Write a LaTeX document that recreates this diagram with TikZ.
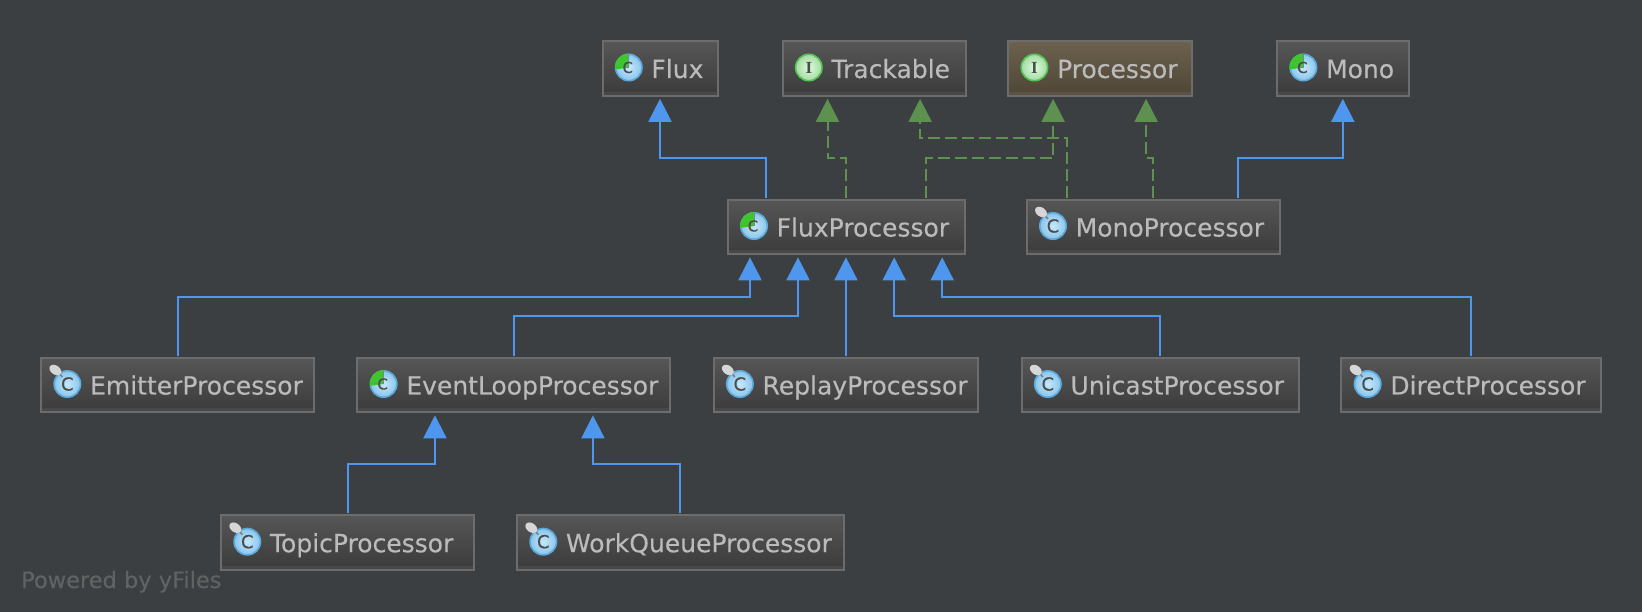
\documentclass[tikz,border=0pt]{standalone}
\usepackage{fontspec}
\setmainfont{DejaVu Sans}[FakeBold=0.25]
\newfontfamily\markfont{Liberation Serif}
\usepackage{tikz}
\usetikzlibrary{arrows.meta, positioning}

\definecolor{canvasgray}{HTML}{3C3F41}
\definecolor{framegray}{HTML}{6C6C6C}
\definecolor{labelgray}{HTML}{BBBBBB}
\definecolor{faintgray}{HTML}{5F6364}
\definecolor{extendblue}{HTML}{4F96EE}
\definecolor{implgreen}{HTML}{5E9150}
\definecolor{markblue}{HTML}{5CA9DC}
\definecolor{markpale}{HTML}{C4E8FC}
\definecolor{markgreen}{HTML}{3FC62F}
\definecolor{boxtop}{HTML}{565656}
\definecolor{boxbottom}{HTML}{3B3B3B}
\definecolor{boxband}{HTML}{484848}
\definecolor{ifacetop}{HTML}{6C614E}
\definecolor{ifacebottom}{HTML}{4E4636}
\definecolor{ifaceband}{HTML}{5B5343}

\tikzset{
  pics/pinnedmark/.style={code={
    \draw[markblue, line width=1.6pt, inner color=markpale, outer color=markblue!55!markpale] (0,0) circle (13.2pt);
    \node[text=black!70, font=\fontsize{18}{18}\selectfont] (-letter) at (0,0) {C};
    \draw[gray, line width=1.6pt] (-5,-7) -- (-11,-14);
    \fill[black!16, rotate around={-35:(-12,-14)}] (-12,-14) ellipse (6.5pt and 4.5pt);
  }},
  pics/abstractmark/.style={code={
    \draw[markblue, line width=1.6pt, inner color=markpale, outer color=markblue!55!markpale] (0,0) circle (13.2pt);
    \fill[markgreen, y=1pt] (0,0) -- (0,14) arc[start angle=90, end angle=188, radius=14] -- cycle;
    \draw[gray!80!markblue, line width=1pt] (0,-13) -- (0,0) -- (-13,0);
    \node[text=black!70, font=\fontsize{15}{15}\selectfont] (-letter) at (-1,0) {C};
  }},
  pics/interfacemark/.style={code={
    \draw[green!50!gray!90!white, line width=1.6pt, inner color=green!15!white, outer color=green!40!gray!50!white] (0,0) circle (13.2pt);
    \node[text=black!70, font=\markfont\bfseries\fontsize{17}{17}\selectfont] (-letter) at (0,0) {I};
  }},
}

\begin{document}
\begin{tikzpicture}[x=1pt, y=-1pt, font=\fontsize{25}{30}\selectfont]
 \tikzstyle{block} = [draw=framegray, line width=2pt, text=labelgray, outer sep=0pt, inner xsep=0pt, inner ysep=0pt, text width=#1, align=left, minimum height=54.7pt, text height=23pt, text depth=4pt, top color=boxtop, bottom color=boxbottom, execute at begin node={\hspace*{49pt}}, path picture={\fill[boxband] (path picture bounding box.south west) rectangle ([yshift=4pt]path picture bounding box.south east);}]
 \tikzstyle{ifaceblock} = [top color=ifacetop, bottom color=ifacebottom, path picture={\fill[ifaceband] (path picture bounding box.south west) rectangle ([yshift=4pt]path picture bounding box.south east);}]
 \tikzstyle{extend} = [draw=extendblue, line width=2pt, shorten <=2pt, shorten >=3pt, -{Triangle[width=23pt, length=23pt]}]
 \tikzstyle{implement} = [draw=implgreen, line width=2pt, dash pattern=on 12pt off 5pt, shorten <=2pt, shorten >=3pt, -{Triangle[width=23pt, length=23pt, fill=implgreen]}]

   \useasboundingbox (0,0) rectangle (1642,612);
   \fill[canvasgray] (0,0) rectangle (1642,612);

   \node[block=115pt] (Flux) at (660,68.5) {Flux};
   \node[block=183pt] (Trackable) [right=65pt of Flux] {Trackable};
   \node[block=183.4pt, ifaceblock] (Processor) [right=42.6pt of Trackable] {Processor};
   \node[block=131.4pt] (Mono) [right=85.6pt of Processor] {Mono};

   \node[block=237pt] (FluxProc) at (846.2,227) {FluxProcessor};
   \node[block=253pt] (MonoProc) [right=62pt of FluxProc] {MonoProcessor};

   \node[block=273.3pt] (Emitter) at (177.7,385) {EmitterProcessor};
   \node[block=312.6pt] (EventLoop) [right=43pt of Emitter] {EventLoopProcessor};
   \node[block=264.8pt] (Replay) [right=43.6pt of EventLoop] {ReplayProcessor};
   \node[block=277.3pt] (Unicast) [right=43.2pt of Replay] {UnicastProcessor};
   \node[block=259.2pt] (Direct) [right=42.5pt of Unicast] {DirectProcessor};

   \node[block=253pt] (Topic) at (347.5,542.7) {TopicProcessor};
   \node[block=326.6pt] (WorkQueue) [right=43pt of Topic] {WorkQueueProcessor};

   \node[anchor=base west, text=faintgray, inner sep=0pt, font=\fontsize{22.5}{27}\selectfont] (Powered) at (21,588) {Powered by yFiles};

   \pic (FluxMark) at ([xshift=26.3pt, yshift=1pt]Flux.west) {abstractmark};
   \pic (MonoMark) at ([xshift=26.3pt, yshift=1pt]Mono.west) {abstractmark};
   \pic (FluxProcMark) at ([xshift=26.3pt, yshift=1pt]FluxProc.west) {abstractmark};
   \pic (EventLoopMark) at ([xshift=26.3pt, yshift=1pt]EventLoop.west) {abstractmark};
   \pic (TrackableMark) at ([xshift=26.3pt, yshift=1pt]Trackable.west) {interfacemark};
   \pic (ProcessorMark) at ([xshift=26.3pt, yshift=1pt]Processor.west) {interfacemark};
   \pic (MonoProcMark) at ([xshift=26.3pt, yshift=1pt]MonoProc.west) {pinnedmark};
   \pic (EmitterMark) at ([xshift=26.3pt, yshift=1pt]Emitter.west) {pinnedmark};
   \pic (ReplayMark) at ([xshift=26.3pt, yshift=1pt]Replay.west) {pinnedmark};
   \pic (UnicastMark) at ([xshift=26.3pt, yshift=1pt]Unicast.west) {pinnedmark};
   \pic (DirectMark) at ([xshift=26.3pt, yshift=1pt]Direct.west) {pinnedmark};
   \pic (TopicMark) at ([xshift=26.3pt, yshift=1pt]Topic.west) {pinnedmark};
   \pic (WorkQueueMark) at ([xshift=26.3pt, yshift=1pt]WorkQueue.west) {pinnedmark};

   \draw[extend] ([xshift=-80pt]FluxProc.north) -- ++(0,-41.4) -| (Flux.south);
   \draw[extend] ([xshift=85pt]MonoProc.north) -- ++(0,-41.4) -| (Mono.south);
   \draw[implement] (FluxProc.north) -- ++(0,-41.4) -| ([xshift=-46.5pt]Trackable.south);
   \draw[implement] ([xshift=80pt]FluxProc.north) -- ++(0,-41.4) -| ([xshift=-46.7pt]Processor.south);
   \draw[implement] ([xshift=-86pt]MonoProc.north) -- ++(0,-61.4) -| ([xshift=46.1pt]Trackable.south);
   \draw[implement] (MonoProc.north) -- ++(0,-41.4) -| ([xshift=46.3pt]Processor.south);

   \draw[extend] (Emitter.north) -- ++(0,-61) -| ([xshift=-96.2pt]FluxProc.south);
   \draw[extend] (EventLoop.north) -- ++(0,-41.4) -| ([xshift=-48.2pt]FluxProc.south);
   \draw[extend] (Replay.north) -- (Replay.north |- FluxProc.south);
   \draw[extend] (Unicast.north) -- ++(0,-41.4) -| ([xshift=48pt]FluxProc.south);
   \draw[extend] (Direct.north) -- ++(0,-61) -| ([xshift=96pt]FluxProc.south);

   \draw[extend] (Topic.north) -- ++(0,-51) -| ([xshift=-78.7pt]EventLoop.south);
   \draw[extend] (WorkQueue.north) -- ++(0,-51) -| ([xshift=79.3pt]EventLoop.south);
\end{tikzpicture}
\end{document}
